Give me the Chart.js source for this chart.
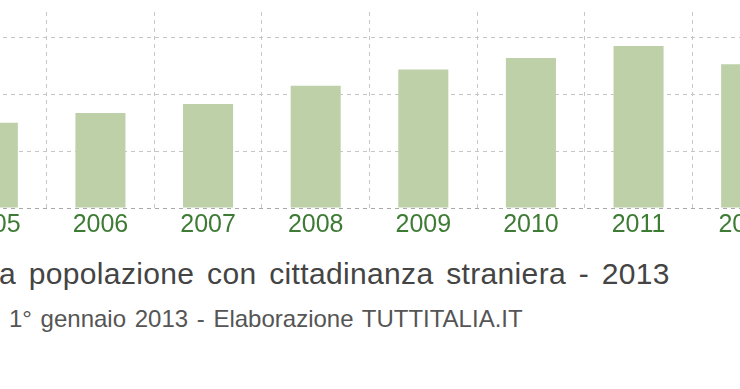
<!DOCTYPE html>
<html>
<head>
<meta charset="utf-8">
<script src="https://cdn.jsdelivr.net/npm/chart.js@4"></script>
<style>
	html, body { margin: 0; padding: 0; background: #fff; }
	.wrapper { position: relative; width: 740px; height: 389px; overflow: hidden; }
	.chart-box { position: absolute; left: -61px; top: 0; width: 861px; height: 243px; }
	.title, .subtitle {
		position: absolute; white-space: nowrap;
		font-family: 'Liberation Sans', Arial, sans-serif; line-height: 1;
	}
	.title { left: -1px; top: 259px; font-size: 30px; word-spacing: 4px; letter-spacing: 0.35px; color: #444; }
	.subtitle { left: 9px; top: 307px; font-size: 24px; word-spacing: 2px; color: #555; }
</style>
</head>
<body>
<div class="wrapper">
	<div class="chart-box"><canvas id="chart"></canvas></div>
	<div class="title" id="title"></div>
	<div class="subtitle" id="subtitle"></div>
</div>
<script>
// years on the x axis (2005 and 2012 are cut by the frame)
const years = ['2005', '2006', '2007', '2008', '2009', '2010', '2011', '2012'];
// foreign residents at 1 January
const residents = [150, 167, 183, 215, 244, 264, 285, 253];
// y scale (its labels are outside the visible frame)
const yMax = 345;
const yStep = 100;

const titleText = 'a popolazione con cittadinanza straniera - 2013';
const subtitleText = '1° gennaio 2013 - Elaborazione TUTTITALIA.IT';

document.getElementById('title').textContent = titleText;
document.getElementById('subtitle').textContent = subtitleText;

const gridGrey = '#c6c6c6';

new Chart(document.getElementById('chart'), {
	type: 'bar',
	data: {
		labels: years,
		datasets: [
			{
				data: residents,
				backgroundColor: '#bdd0a7',
				borderWidth: 0,
				categoryPercentage: 1,
				barPercentage: 0.465,
			},
		],
	},
	options: {
		responsive: true,
		maintainAspectRatio: false,
		animation: false,
		layout: { padding: { top: 12, bottom: 1, left: 0, right: 0 } },
		plugins: {
			legend: { display: false },
			tooltip: { enabled: false },
		},
		scales: {
			x: {
				grid: { color: gridGrey, drawTicks: false, offset: true },
				// border hidden, but its dash is used by the vertical grid lines
				border: { display: false, dash: [4, 4] },
				ticks: {
					color: '#3e7b35',
					padding: 2,
					font: { family: "'Liberation Sans', Arial, sans-serif", size: 25 },
				},
			},
			y: {
				min: 0,
				max: yMax,
				grid: {
					// the zero line doubles as the (dashed) axis line
					color: (ctx) => (ctx.tick && ctx.tick.value === 0 ? '#aaaaaa' : gridGrey),
					drawTicks: false,
				},
				border: { display: false, dash: [4, 4] },
				ticks: { display: false, stepSize: yStep, includeBounds: false },
			},
		},
	},
});
</script>
</body>
</html>
